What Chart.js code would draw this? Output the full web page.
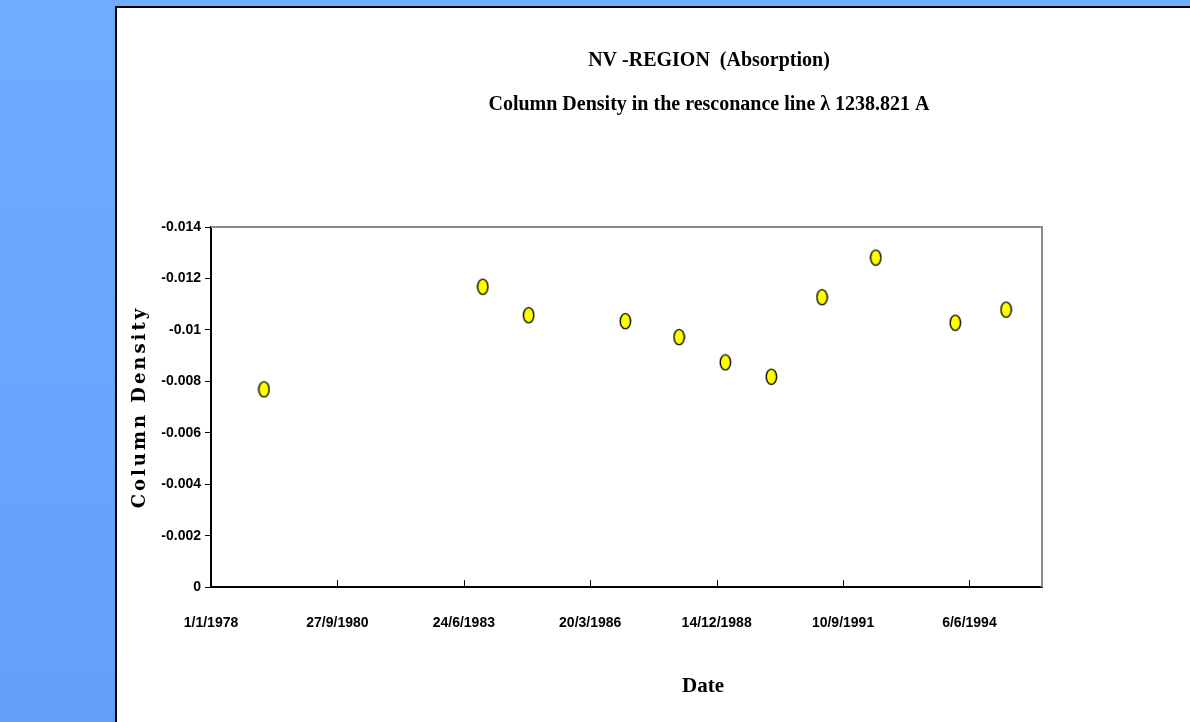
<!DOCTYPE html>
<html>
<head>
<meta charset="utf-8">
<script src="https://cdn.jsdelivr.net/npm/chart.js@4"></script>
<style>
  html, body { margin: 0; padding: 0; }
  body {
    width: 1190px; height: 722px; overflow: hidden; position: relative;
    background: linear-gradient(to bottom, #70acff, #62a0fb);
  }
  #panel {
    position: absolute; left: 115px; top: 6px; width: 1075px; height: 716px;
    background: #fff; border-left: 2px solid #000; border-top: 2px solid #000;
    box-sizing: border-box;
  }
  #wrap { position: absolute; left: 0; top: 0; width: 1073px; height: 714px; }
</style>
</head>
<body>
<div id="panel"><div id="wrap"><canvas id="myChart"></canvas></div></div>
<script>
// observation dates as Excel day numbers (1 = 1/1/1900)
var dateSerial = [28910, 30641, 31004, 31769, 32194, 32560, 32924, 33325, 33750, 34379, 34781];
var columnDensity = [-0.00769, -0.01168, -0.01057, -0.01034, -0.00972, -0.00874, -0.00818, -0.01127, -0.01281, -0.01028, -0.01079];
// x axis ticks: 1/1/1978, 27/9/1980, ... every 1000 days
var xTickSerial = [28491, 29491, 30491, 31491, 32491, 33491, 34491];
var yTickValues = [0, -0.002, -0.004, -0.006, -0.008, -0.01, -0.012, -0.014];
var titleLines = ['NV -REGION  (Absorption)', 'Column Density in the resconance line \u03bb 1238.821 A'];
var yTitle = 'Column Density';
var xTitle = 'Date';

function serialToLabel(s) {
  var d = new Date(Date.UTC(1899, 11, 30) + s * 86400000);
  return d.getUTCDate() + '/' + (d.getUTCMonth() + 1) + '/' + d.getUTCFullYear();
}

// yellow ellipse marker
var marker = document.createElement('canvas');
marker.width = 13; marker.height = 18;
var mctx = marker.getContext('2d');
mctx.beginPath();
mctx.ellipse(6.5, 9, 5.2, 7.6, 0, 0, Math.PI * 2);
mctx.fillStyle = '#ffff00';
mctx.fill();
mctx.lineWidth = 1.4;
mctx.strokeStyle = '#000';
mctx.stroke();

var tickFont = { family: "'Liberation Sans Narrow', 'Liberation Sans', Arial", size: 14, weight: 'bold' };
var serifFont = "'Liberation Serif', 'DejaVu Serif', serif";

// frame top/right in grey, x ticks pointing inward, titles
var framePlugin = {
  id: 'frame',
  afterDraw: function(chart) {
    var ctx = chart.ctx, a = chart.chartArea, xs = chart.scales.x;
    ctx.save();
    ctx.strokeStyle = '#8c8c8c';
    ctx.lineWidth = 2;
    ctx.beginPath();
    ctx.moveTo(a.left, a.top);
    ctx.lineTo(a.right, a.top);
    ctx.lineTo(a.right, a.bottom);
    ctx.stroke();
    ctx.strokeStyle = '#000';
    ctx.lineWidth = 1;
    xTickSerial.forEach(function(v) {
      var px = Math.round(xs.getPixelForValue(v)) + 0.5;
      ctx.beginPath();
      ctx.moveTo(px, a.bottom);
      ctx.lineTo(px, a.bottom - 7);
      ctx.stroke();
    });

    // chart title and x title, centred over the panel
    ctx.fillStyle = '#000';
    ctx.textAlign = 'center';
    ctx.textBaseline = 'middle';
    ctx.font = 'bold 20px ' + serifFont;
    ctx.fillText(titleLines[0], 592, 53);
    ctx.fillText(titleLines[1], 592, 97);
    ctx.font = 'bold 21px ' + serifFont;
    ctx.fillText(xTitle, 586, 679);

    // y axis title, letter spaced
    ctx.translate(23, (a.top + a.bottom) / 2);
    ctx.rotate(-Math.PI / 2);
    ctx.font = "bold 18px 'DejaVu Serif', serif";
    ctx.letterSpacing = '3px';
    ctx.fillText(yTitle, 0, 0);
    ctx.restore();
  }
};

var ctx = document.getElementById('myChart').getContext('2d');
var myChart = new Chart(ctx, {
  type: 'scatter',
  data: {
    datasets: [{
      label: 'Column Density',
      data: dateSerial.map(function(s, i) { return { x: s, y: columnDensity[i] }; }),
      pointStyle: marker,
      pointRadius: 8,
      pointHoverRadius: 8
    }]
  },
  options: {
    responsive: true,
    maintainAspectRatio: false,
    animation: false,
    layout: { padding: { left: 0, right: 148, top: 219, bottom: 62 } },
    plugins: {
      legend: { display: false },
      tooltip: { enabled: false },
      title: { display: false }
    },
    scales: {
      x: {
        type: 'linear',
        min: 28491,
        max: 35065,
        afterBuildTicks: function(scale) {
          scale.ticks = xTickSerial.map(function(v) { return { value: v }; });
        },
        grid: { display: true, drawOnChartArea: false, drawTicks: false },
        border: { display: true, color: '#000', width: 2 },
        ticks: {
          color: '#000', font: tickFont, padding: 28, maxRotation: 0,
          callback: function(v) { return serialToLabel(v); }
        },
        title: { display: false }
      },
      y: {
        min: -0.014,
        max: 0,
        reverse: true,
        afterBuildTicks: function(scale) {
          scale.ticks = yTickValues.map(function(v) { return { value: v }; });
        },
        afterFit: function(scale) { scale.width = 94; },
        grid: { display: true, drawOnChartArea: false, drawTicks: true, tickLength: 6, color: '#000' },
        border: { display: true, color: '#000', width: 2 },
        ticks: {
          color: '#000', font: tickFont, padding: 4,
          callback: function(v) {
            var n = Number(v.toFixed(3));
            return n === 0 ? '0' : String(n);
          }
        },
        title: { display: false }
      }
    }
  },
  plugins: [framePlugin]
});
</script>
</body>
</html>
